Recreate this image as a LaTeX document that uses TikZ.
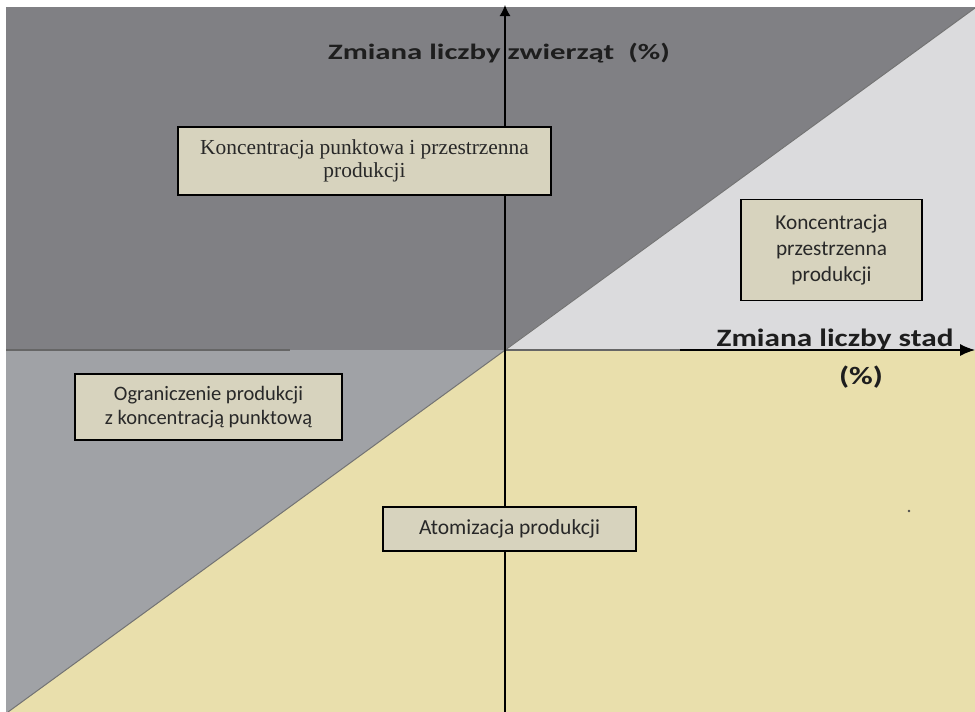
\documentclass[tikz,border=0pt]{standalone}
\usepackage{fontspec}
\usepackage{graphicx}
\setmainfont{Liberation Serif}
\newfontfamily\calib{Carlito}
\usetikzlibrary{arrows.meta}
\definecolor{dgray}{RGB}{128,128,132}
\definecolor{mgray}{RGB}{160,162,166}
\definecolor{lgray}{RGB}{219,219,221}
\definecolor{yell}{RGB}{233,223,172}
\definecolor{boxfill}{RGB}{215,211,190}
\definecolor{txt}{RGB}{30,30,30}
\definecolor{btxt}{RGB}{40,40,40}
\tikzset{
  infobox/.style={draw=black, line width=1.3pt, fill=boxfill, inner sep=0pt, align=center, text=btxt},
  axislabel/.style={font=\calib\bfseries\fontsize{25}{28}\selectfont, text=txt, inner sep=0pt, anchor=base},
  axisline/.style={line width=1.3pt, black},
}
\begin{document}
\begin{tikzpicture}[x=1pt,y=-1pt]
\useasboundingbox (0,0) rectangle (975,712);
\fill[white] (0,0) rectangle (975,712);
% regions
\coordinate (O) at (505,350);
\coordinate (D1) at (975,8);
\coordinate (D2) at (8,712);
\fill[yell] (6,7) rectangle (975,712);
\fill[dgray] (6,7) -- (975,7) -- (D1) -- (O) -- (6,350) -- cycle;
\fill[mgray] (6,350) -- (O) -- (D2) -- (6,712) -- cycle;
\fill[lgray] (D1) -- (975,350) -- (O) -- cycle;
% diagonal
\draw[line width=1pt, color=black!55] (D2) -- (D1);
% horizontal axis
\coordinate (XL) at (6,350);
\coordinate (XG) at (290,350);
\coordinate (XM) at (680,350);
\coordinate (XE) at (975,350);
\draw[line width=1.2pt, black!60] (XL) -- (XG);
\draw[line width=1.2pt, black!60] (O) -- (XM);
\draw[axisline, -{Latex[length=15pt,width=12pt]}] (XM) -- (XE);
% vertical axis
\coordinate (YB) at (505,712);
\coordinate (YT) at (505,5);
\draw[axisline, -{Latex[length=11pt,width=11pt]}] (YB) -- (YT);
% axis labels
\node[axislabel, font=\calib\bfseries\fontsize{22}{26}\selectfont] (ylab) at (499,59) {\scalebox{1.4}[1]{Zmiana liczby zwierząt\ \ (\%)}};
\node[axislabel] (xlab) at (835,346) {\scalebox{1.25}[1]{Zmiana liczby stad}};
\node[axislabel] (xpct) at (861,384) {\scalebox{1.3}[1]{(\%)}};
% boxes
\node[infobox, minimum width=373pt, minimum height=68pt, font=\fontsize{21.4}{23}\selectfont] (b1) at (364.5,161) {Koncentracja punktowa i przestrzenna\\produkcji};
\node[infobox, minimum width=181pt, minimum height=101pt, font=\calib\fontsize{21.3}{26}\selectfont] (b2) at (831.5,250) {Koncentracja\\przestrzenna\\produkcji};
\node[infobox, minimum width=267pt, minimum height=66pt, font=\calib\fontsize{20.5}{24}\selectfont] (b3) at (208.5,407) {Ograniczenie produkcji\\ z koncentracją punktową};
\node[infobox, minimum width=253pt, minimum height=44pt, font=\calib\fontsize{21.5}{22}\selectfont] (b4) at (509.5,529) {Atomizacja produkcji};
% small dot
\fill[black!70] (909,511) circle (1.3pt);
\end{tikzpicture}
\end{document}
